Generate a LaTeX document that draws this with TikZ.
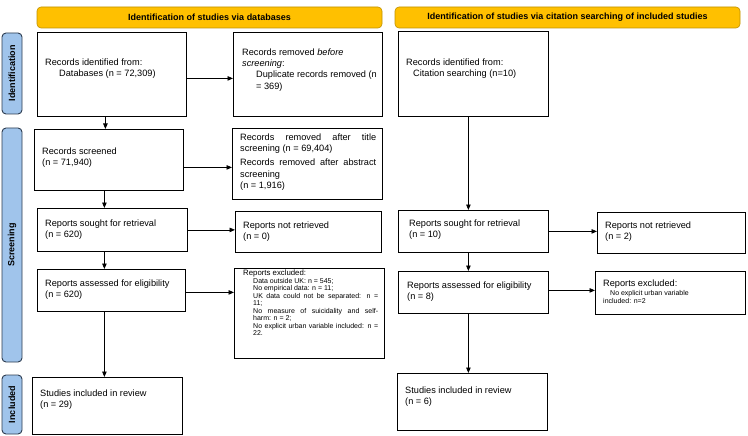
\documentclass[tikz,border=0pt]{standalone}
\usepackage{fontspec}
\setmainfont{Liberation Sans}
\usetikzlibrary{arrows.meta}
\definecolor{bannerfill}{RGB}{255,192,0}
\definecolor{bannerdraw}{RGB}{191,144,0}
\definecolor{sidefill}{RGB}{160,196,235}
\definecolor{sidedraw}{RGB}{45,60,80}
\begin{document}
\begin{tikzpicture}[x=1pt,y=-1pt,
  box/.style={draw=black, line width=0.8pt, inner sep=0pt, anchor=north west},
  txt/.style={inner sep=0pt, anchor=west, align=left, font=\fontsize{9.2}{11.2}\selectfont},
  banner/.style={draw=bannerdraw, fill=bannerfill, rounded corners=4pt, line width=0.6pt, minimum height=21pt, font=\bfseries\fontsize{9}{11}\selectfont, inner sep=0pt},
  side/.style={draw=sidedraw, fill=sidefill, rounded corners=4pt, line width=0.9pt, rotate=90, minimum height=20pt, font=\bfseries\fontsize{9}{11}\selectfont, inner sep=0pt},
  arr/.style={-{Triangle[length=5.5pt,width=4.5pt]}, line width=0.8pt}]
\useasboundingbox (0,0) rectangle (748,436);

% banners
\node[banner, minimum width=345pt] (bL) at (209.5,17.5) {Identification of studies via databases};
\node[banner, minimum width=345pt] (bR) at (567.5,17.5) {Identification of studies via citation searching of included studies};

% side labels
\node[side, minimum width=81pt] (sI) at (12,73.5) {Identification};
\node[side, minimum width=234pt] (sS) at (12,245) {Screening};
\node[side, minimum width=59pt] (sN) at (12,404.5) {Included};

% identification row
\node[box, minimum width=149pt, minimum height=84pt] (idDB) at (37,32) {};
\node[txt] (idDBt) at (45,69) {Records identified from:\\\hspace*{14pt}Databases (n = 72,309)};

\node[box, minimum width=149pt, minimum height=84pt] (rmB) at (233,32) {};
\node[txt] (rmBt) at (242,70) {Records removed \textit{before}\\\textit{screening}:\\\hspace*{14pt}Duplicate records removed (n\\\hspace*{14pt}= 369)};

\node[box, minimum width=150pt, minimum height=85pt] (idC) at (398,31) {};
\node[txt] (idCt) at (406,69) {Records identified from:\\\hspace*{7pt}Citation searching (n=10)};

% screening
\node[box, minimum width=149pt, minimum height=61pt] (scr) at (34,129) {};
\node[txt] (scrt) at (42,158) {Records screened\\(n = 71,940)};

\node[box, minimum width=150pt, minimum height=71pt] (rmT) at (232,128) {};
\node[txt, text width=136pt, align=justify] (rmTt) at (240,162) {Records removed after title\linebreak screening (n = 69,404)\par\vspace{3pt}Records removed after abstract\linebreak screening\newline(n = 1,916)};

\node[box, minimum width=150pt, minimum height=43pt] (sL) at (37,208) {};
\node[txt] (sLt) at (45,230) {Reports sought for retrieval\\(n = 620)};

\node[box, minimum width=146pt, minimum height=41pt] (nL) at (235,211) {};
\node[txt] (nLt) at (243,232) {Reports not retrieved\\(n = 0)};

\node[box, minimum width=150pt, minimum height=42pt] (sR) at (398,210) {};
\node[txt] (sRt) at (409,230) {Reports sought for retrieval\\(n = 10)};

\node[box, minimum width=148pt, minimum height=41pt] (nR) at (597,212) {};
\node[txt] (nRt) at (605,232) {Reports not retrieved\\(n = 2)};

\node[box, minimum width=148pt, minimum height=42pt] (aL) at (37,269) {};
\node[txt] (aLt) at (45,290) {Reports assessed for eligibility\\(n = 620)};

\node[box, minimum width=150pt, minimum height=90pt] (eL) at (234,268) {};
\node[txt, anchor=north west, text width=135pt, align=justify] (eLt) at (243,270) {\parindent=0pt\tolerance=10000\hbadness=10000
{\fontsize{7.8}{9}\selectfont Reports excluded:\par}
\fontsize{7}{7.5}\selectfont\leftskip=10pt
Data outside UK: n = 545;\par
No empirical data: n = 11;\par
UK data could not be separated: n =\linebreak 11;\par
No measure of suicidality and self-\linebreak harm: n = 2;\par
No explicit urban variable included: n =\linebreak 22.\par};

\node[box, minimum width=150pt, minimum height=42pt] (aR) at (398,271) {};
\node[txt] (aRt) at (407,292) {Reports assessed for eligibility\\(n = 8)};

\node[box, minimum width=150pt, minimum height=43pt] (eR) at (595,271) {};
\node[txt, font=\fontsize{7}{8.5}\selectfont] (eRt) at (603,292) {{\fontsize{9.2}{11.2}\selectfont Reports excluded:}\\\hspace*{7pt}No explicit urban variable\\included: n=2};

% included
\node[box, minimum width=150pt, minimum height=57pt] (iL) at (32,377) {};
\node[txt] (iLt) at (40,400) {Studies included in review\\(n = 29)};
\node[box, minimum width=150pt, minimum height=57pt] (iR) at (397,373) {};
\node[txt] (iRt) at (405,397) {Studies included in review\\(n = 6)};

% arrows
\draw[arr] ([yshift=-4pt]idDB.east) -- ([yshift=-4pt]idDB.east -| rmB.west);
\draw[arr] ([xshift=-6.5pt]idDB.south) -- ([xshift=-6.5pt]idDB.south |- scr.north);
\draw[arr] ([yshift=-7.5pt]scr.east) -- ([yshift=-7.5pt]scr.east -| rmT.west);
\draw[arr] ([xshift=-4.5pt]scr.south) -- ([xshift=-4.5pt]scr.south |- sL.north);
\draw[arr] (sL.east) -- (sL.east -| nL.west);
\draw[arr] ([xshift=-8pt]sL.south) -- ([xshift=-8pt]sL.south |- aL.north);
\draw[arr] ([yshift=-2pt]aL.east) -- ([yshift=-2pt]aL.east -| eL.west);
\draw[arr] ([xshift=-7pt]aL.south) -- ([xshift=-7pt]aL.south |- iL.north);
\draw[arr] ([xshift=-5pt]idC.south) -- ([xshift=-5pt]idC.south |- sR.north);
\draw[arr] (sR.east) -- (sR.east -| nR.west);
\draw[arr] ([xshift=-5pt]sR.south) -- ([xshift=-5pt]sR.south |- aR.north);
\draw[arr] ([yshift=2pt]aR.east) -- ([yshift=2pt]aR.east -| eR.west);
\draw[arr] ([xshift=-5pt]aR.south) -- ([xshift=-5pt]aR.south |- iR.north);
\end{tikzpicture}
\end{document}
